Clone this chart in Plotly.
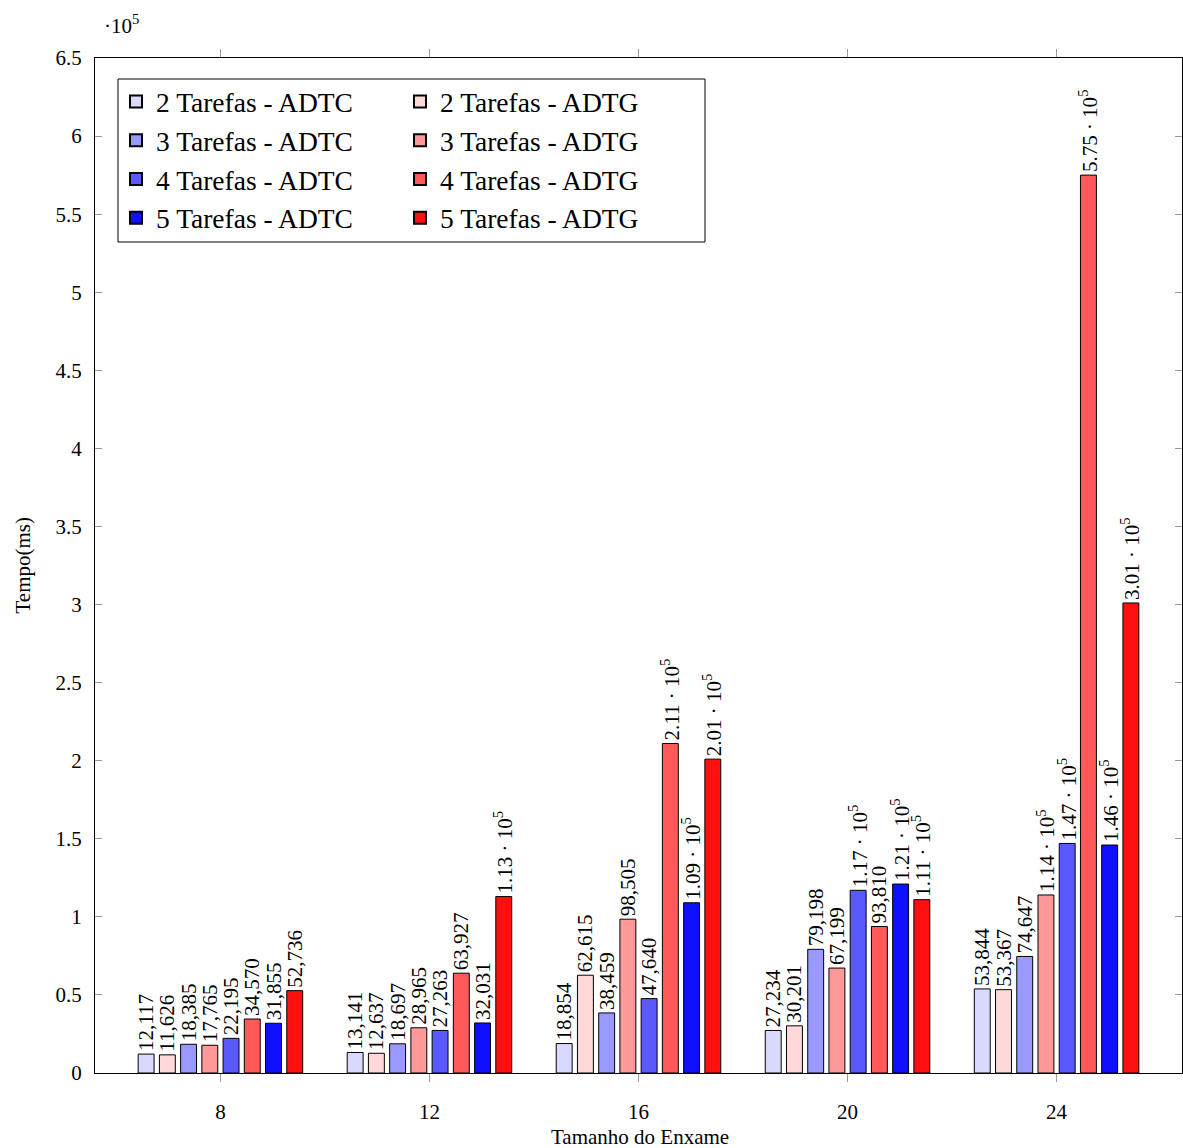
import plotly.graph_objects as go

# Swarm sizes (x categories)
swarm_sizes = [8, 12, 16, 20, 24]

# Execution time (ms) per strategy and number of tasks
adtc_2 = [12117, 13141, 18854, 27234, 53844]
adtg_2 = [11626, 12637, 62615, 30201, 53367]
adtc_3 = [18385, 18697, 38459, 79198, 74647]
adtg_3 = [17765, 28965, 98505, 67199, 114000]
adtc_4 = [22195, 27263, 47640, 117000, 147000]
adtg_4 = [34570, 63927, 211000, 93810, 575000]
adtc_5 = [31855, 32031, 109000, 121000, 146000]
adtg_5 = [52736, 113000, 201000, 111000, 301000]

series_names = [
    "2 Tarefas - ADTC", "2 Tarefas - ADTG",
    "3 Tarefas - ADTC", "3 Tarefas - ADTG",
    "4 Tarefas - ADTC", "4 Tarefas - ADTG",
    "5 Tarefas - ADTC", "5 Tarefas - ADTG",
]
series_values = [adtc_2, adtg_2, adtc_3, adtg_3, adtc_4, adtg_4, adtc_5, adtg_5]
series_colors = [
    "#d9d9ff", "#ffd9d9",
    "#9999ff", "#ff9999",
    "#5959ff", "#ff5959",
    "#1010ff", "#ff1010",
]

y_tick_vals = [i * 50000 for i in range(14)]
y_tick_text = ["0", "0.5", "1", "1.5", "2", "2.5", "3", "3.5", "4", "4.5",
               "5", "5.5", "6", "6.5"]

FONT = "Liberation Serif"


def fmt(v):
    if v >= 100000:
        return f"{v / 1e5:.2f} · 10<sup>5</sup>"
    return f"{v:,}"


fig = go.Figure()
for i, (name, vals, col) in enumerate(zip(series_names, series_values, series_colors)):
    fig.add_trace(go.Bar(
        x=swarm_sizes,
        y=vals,
        name=name,
        marker=dict(color=col, line=dict(color="#000000", width=1)),
        text=[fmt(v) for v in vals],
        textposition="outside",
        textangle=-90,
        constraintext="none",
        cliponaxis=False,
        textfont=dict(family=FONT, size=21, color="#000000"),
        legend="legend" if i % 2 == 0 else "legend2",
        hoverinfo="x+y+name",
    ))

W, H = 1183, 1148
L, R, T, B = 95, 1, 58, 75
pw, ph = W - L - R, H - T - B


def px_x(p):
    return (p - L) / pw


def px_y(p):
    return 1 - (p - T) / ph


legend_common = dict(
    font=dict(family=FONT, size=27.5, color="#000000"),
    bgcolor="rgba(0,0,0,0)",
    borderwidth=0,
    yanchor="top",
    xanchor="left",
    tracegroupgap=0,
    itemsizing="constant",
)

fig.update_layout(
    width=W, height=H,
    margin=dict(l=L, r=R, t=T, b=B),
    paper_bgcolor="white",
    plot_bgcolor="white",
    barmode="group",
    bargap=0.1875,
    bargroupgap=0.25,
    font=dict(family=FONT, size=21, color="#000000"),
    legend=dict(x=px_x(116), y=px_y(77), **legend_common),
    legend2=dict(x=px_x(400), y=px_y(77), **legend_common),
    xaxis=dict(
        range=[5.6, 26.4],
        tickvals=swarm_sizes,
        ticktext=[str(s) for s in swarm_sizes],
        ticks="outside", ticklen=8, tickcolor="#999999",
        showline=True, linecolor="#000000", linewidth=1, mirror="ticks",
        showgrid=False, zeroline=False,
        tickfont=dict(family=FONT, size=21),
        ticklabelstandoff=12,
    ),
    yaxis=dict(
        range=[0, 650000],
        tickvals=y_tick_vals,
        ticktext=y_tick_text,
        ticks="inside", ticklen=7, tickcolor="#999999",
        showline=True, linecolor="#000000", linewidth=1, mirror="ticks",
        showgrid=False, zeroline=False,
        tickfont=dict(family=FONT, size=21),
        ticklabelstandoff=8,
    ),
    shapes=[dict(
        type="rect", xref="paper", yref="paper",
        x0=px_x(118), x1=px_x(705), y0=px_y(242), y1=px_y(79),
        line=dict(color="#000000", width=1), fillcolor="rgba(0,0,0,0)",
    )],
    annotations=[
        dict(text="·10<sup>5</sup>", xref="paper", yref="paper",
             x=px_x(102), y=px_y(24), xanchor="left", yanchor="middle",
             showarrow=False, font=dict(family=FONT, size=21)),
        dict(text="Tempo(ms)", xref="paper", yref="paper",
             x=px_x(22), y=0.5, xanchor="center", yanchor="middle",
             textangle=-90, showarrow=False, font=dict(family=FONT, size=21)),
        dict(text="Tamanho do Enxame", xref="paper", yref="paper",
             x=px_x(640), y=px_y(1137), xanchor="center", yanchor="middle",
             showarrow=False, font=dict(family=FONT, size=21)),
    ],
)

fig.write_html("out.html")
